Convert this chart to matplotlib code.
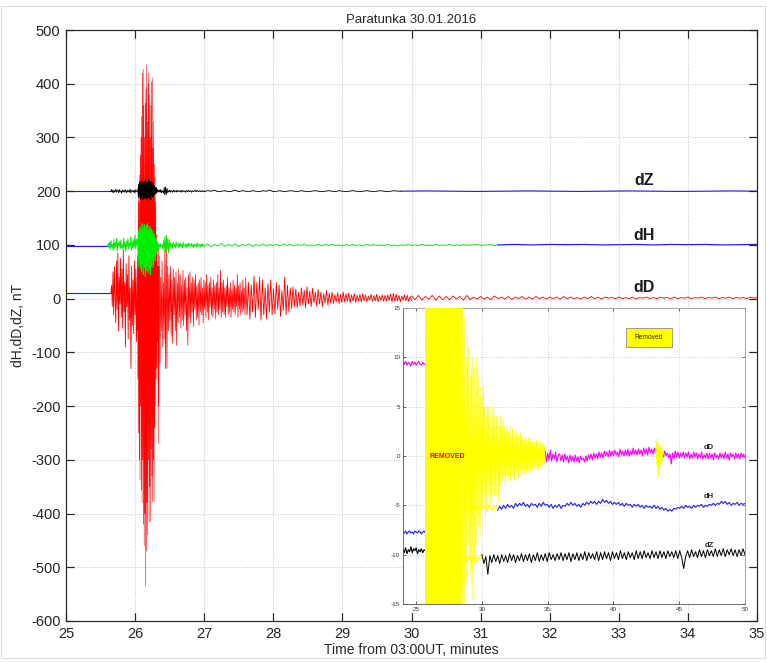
import numpy as np
import matplotlib.pyplot as plt
from matplotlib.patches import Rectangle

plt.rcParams['font.family'] = ['Liberation Sans', 'DejaVu Sans']
plt.rcParams['axes.unicode_minus'] = False

# ---- main panel: minutes after 03:00 UT, nT ----
# dD trace, split into pieces; first piece is the quiet (blue) level
dD_edges = [25.0, 25.65, 26.03, 26.35, 27.6, 30.0, 35.0]
dD_quiet = [10, 10]
dD_onset = [10, 25, -15, 50, -30, 60, 5, -45, 70, -20,
            85, -60, 40, -10, 75, -35, 55, -55, 90, -25,
            30, -90, 65, -15, 45, -75, 80, -40, 20, -130,
            60, -50, 35, -65, 70, -30, 55, -80, 40]
dD_burst = [-60, 80, -150, 200, -250, 180, -300, 230, -338, 267,
            -200, 300, -356, 340, -380, 420, -300, 427, -420, 360,
            -460, 300, -400, 364, -535, 390, -470, 435, -380, 329,
            -440, 400, -300, 420, -416, 380, -350, 300, -415, 360,
            -280, 404, -330, 411, -378, 280, -300, 330, -378, 250,
            -240, 226, -200, 180, -150, 120, -130, 90, -80, 60,
            -270, 100, -200, 80]
dD_coda = [60, -120, 40, -60, 70, -90, 30, -75, 90, -130,
           115, -130, 60, -60, 45, -40, 60, -70, 35, -83,
           55, -30, 40, -60, 50, -87, 30, -45, 55, -35,
           45, -55, 25, -40, 53, -50, 35, -30, 40, -60,
           20, -87, 45, -35, 50, -45, 30, -25, 40, -52,
           35, -20, 45, -40, 25, -35, 30, -50, 35, -25,
           40, -30, 20, -45, 35, -20, 30, -35, 45, -25,
           25, -40, 30, -15, 40, -30, 20, -35, 35, -20,
           25, -38, 30, -25, 45, -30, 20, -20, 53, -35,
           30, -25, 35, -30, 20, -35, 25, -15, 40, -30,
           20, -25, 30, -35, 15, -20, 35, -25, 25, -30,
           20, -15, 45, -35, 25, -20, 30, -30, 15, -25,
           35, -20, 20, -30, 25]
dD_decay = [38, -30, 30, -38, 25, -25, 42, -35, 30, -20, 40,
            -40, 35, -30, 20, -38, 28, -25, 35, -30, 18,
            -28, 30, -20, 25, -33, 15, -22, 40, -30, 25,
            -25, 20, -18, 22, -15, 18, -17, 12, -14, 20,
            -12, 16, -17, 22, -10, 14, -15, 19, -8, 12,
            -14, 17, -10, 12, -15, 9, -8, 15, -12, 10,
            -8, 12, -9, 7, -6, 11, -9, 8, -7, 12,
            -6, 9, -5, 10, -8, 7, -4, 9, -7, 6,
            -5, 8, -6, 9, -4, 7, -6, 5, -3, 8,
            -5, 6, -4, 8, -6, 5, -3, 7, -5, 6,
            -4, 7, -3, 9, -6, 10, -5, 8, -4, 6,
            -6, 5, -3, 7, -4, 6, -5, 4, -3]
dD_tail = [5, -2, 6, -3, 4, -1, 6, -3, 5, -2,
           4, -2, 5, -1, 4, -3, 6, -2, 3, -1,
           4, -1, 3, -2, 5, 0, 3, -1, 4, -2,
           3, 0, 4, -1, 3, -1, 4, 0, 3, -1,
           3, 0, 3, -1, 4, 0, 3, 0, 2, -1,
           3, 0, 4, 0, 3, -1, 3, 1, 2, 0,
           3, 0, 2, 0, 3, -1, 2, 1, 3, 0,
           2, 0, 3, 1, 2, 0, 3, 0, 2, 1,
           3, 0, 2, 1, 3, 0, 2, 1, 3, 0,
           2, 1, 3, 0, 2, 1, 2, 0, 3, 1, 2]

# dH trace; first and last pieces are blue
dH_edges = [25.0, 25.6, 26.04, 26.34, 27.0, 31.25, 35.0]
dH_quiet = [98, 98]
dH_onset = [98, 102, 95, 105, 92, 108, 96, 101, 90, 110,
            94, 104, 97, 112, 89, 103, 99, 106, 93, 109,
            95, 100, 91, 113, 96, 104, 88, 107, 97, 111,
            92, 103, 99, 115, 90, 105, 94, 108, 96, 118,
            93, 110, 100, 112]
dH_burst = [105, 75, 125, 60, 130, 70, 118, 55, 135, 80,
            128, 50, 140, 65, 122, 45, 133, 72, 138, 58,
            126, 40, 130, 68, 137, 52, 120, 62, 141, 48,
            127, 70, 135, 55, 124, 44, 132, 66, 129, 60,
            120, 72, 126, 58, 118, 64, 122, 78, 115, 70,
            112, 80, 108, 85, 110, 88, 104, 90, 102, 94]
dH_coda = [96, 101, 94, 103, 97, 100, 92, 108, 88, 116,
           86, 118, 90, 112, 85, 110, 94, 104, 96, 102,
           93, 105, 97, 101, 94, 106, 98, 100, 95, 104,
           96, 103, 97, 101, 94, 105, 98, 100, 96, 103,
           95, 102, 97, 104, 98, 101, 96, 103, 97, 100,
           95, 102, 98, 101, 96, 104, 97, 100, 98, 102,
           96, 101, 97, 103, 98, 100]
dH_decay = [97, 102, 96, 101, 98, 103, 97, 101, 98, 102,
            97, 101, 99, 102, 97, 101, 98, 102, 98, 101,
            99, 101, 98, 102, 99, 101, 98, 101, 99, 102,
            98, 100, 99, 101, 98, 101, 99, 101, 99, 100,
            98, 101, 99, 101, 99, 100, 98, 101, 99, 101,
            99, 100, 99, 101, 99, 100, 98, 100, 99, 101,
            99, 100, 99, 101, 99, 100, 99, 101, 99, 100,
            99, 101, 99, 100, 99, 101, 99, 100, 100, 101,
            99, 100, 100, 101, 99, 100]
dH_after = [100, 101, 100, 101, 100.5, 101, 100, 100.5,
            101, 100, 101, 100.5, 101, 100, 100.5, 101]

# dZ trace; first and last pieces are blue
dZ_edges = [25.0, 25.65, 26.04, 26.34, 27.0, 29.85, 35.0]
dZ_quiet = [201, 201]
dZ_onset = [200, 203, 198, 202, 197, 201, 199, 204, 198, 201,
            202, 197, 203, 199, 200, 196, 202, 199, 201, 198,
            203, 200, 197, 202, 199, 201, 198, 204, 197, 200,
            202, 199, 201, 197, 203, 198, 200, 202, 199]
dZ_burst = [205, 192, 212, 188, 215, 195, 218, 185, 210, 190,
            220, 186, 214, 193, 217, 184, 212, 190, 219, 187,
            216, 192, 221, 185, 213, 189, 218, 183, 215, 194,
            222, 188, 214, 186, 219, 191, 216, 184, 212, 193,
            218, 189, 210, 192, 214, 190, 208, 195, 210, 194,
            206, 197, 207, 196, 204, 198, 203, 199, 202, 200]
dZ_coda = [199, 202, 198, 203, 197, 201, 200, 196, 207, 193,
           208, 194, 205, 197, 201, 199, 202, 198, 201, 200,
           198, 202, 199, 201, 200, 198, 202, 199, 201, 200,
           199, 201, 198, 202, 200, 199, 201, 200, 198, 201,
           200, 199, 202, 200, 199, 201, 200, 198, 201, 200,
           199, 201, 200, 202, 199, 200, 201, 199, 200, 201,
           199, 200, 201, 199, 200, 201]
dZ_decay = [199, 201, 200, 202, 199, 200, 201, 199, 200, 202,
            199, 201, 200, 199, 201, 200, 199, 201, 200, 202,
            199, 200, 201, 199, 200, 201, 200, 199, 201, 200,
            199, 200, 201, 200, 199, 200, 201, 200, 199, 201,
            200, 199, 200, 201, 200, 199, 200, 201, 200, 199,
            200, 201, 200, 199, 200, 201, 200, 200]
dZ_after = [200, 200.5, 200, 199.5, 200, 200.5, 200, 199.5,
            200, 200.5, 200, 199.5, 200, 200.5, 200]

# ---- inset: same components, cleaned series ----
ins_dD_pre = [9.5, 9.3, 9.6, 9.2, 9.5, 9.4, 9.1, 9.6, 9.3, 9.5,
              9.2, 9.4, 9.6, 9.3, 9.2, 9.5, 9.3, 9.4]
ins_dD_post = [0.5, -0.6, 0.3, -0.4, 0.6, -0.5, 0.2, -0.3, 0.4, -0.6, 0.1,
               0.2, -0.5, 0.1, -0.6, 0.2, -0.4, 0.0, -0.7, 0.1, -0.5,
               -0.1, -0.6, 0.1, -0.5, -0.1, -0.7, 0.0, -0.4, -0.2, -0.6,
               0.0, -0.5, 0.1, -0.3, 0.2, -0.4, 0.3, -0.2, 0.2, -0.3,
               0.4, -0.1, 0.3, -0.2, 0.5, 0.0, 0.4, -0.1, 0.6, 0.0,
               0.5, 0.0, 0.6, 0.1, 0.4, -0.1, 0.7, 0.1, 0.5, 0.0,
               0.6, 0.1, 0.7, 0.0, 0.5, 0.1, 0.8, 0.2, 0.6, 0.1,
               0.7, 0.2, 0.6, 0.0, 0.8, 0.2, 0.7, 0.1, 0.9, 0.3,
               0.7, 0.2, 0.8, 0.3,
               0.5, 0.1, 0.6, 0.0, 0.4, -0.1, 0.5, 0.0, 0.3, -0.2,
               0.2, -0.8, 0.3, -0.3, 0.5, -0.1, 0.4, -0.2, 0.3, -0.1,
               0.4, -0.2, 0.3, -0.1, 0.4, -0.3, 0.2, -0.2, 0.4, -0.1,
               0.3, -0.3, 0.2, -0.2, 0.4, -0.3, 0.1, -0.2, 0.3, -0.3,
               0.3, -0.2, 0.2, -0.4, 0.3, -0.2, 0.1, -0.3, 0.3, -0.2,
               0.2, -0.3, 0.4, -0.2, 0.2, -0.4, 0.3, -0.1, 0.2, -0.3,
               0.3, -0.2, 0.2, -0.3, 0.3, -0.1, 0.2, -0.2]
ins_dH_pre = [-7.7, -7.8, -7.6, -7.9, -7.7, -7.6, -7.8, -7.7, -7.9, -7.6,
              -7.7, -7.8, -7.6, -7.7, -7.9, -7.7, -7.6, -7.8]
ins_dH_post = [-5.5, -5.1, -5.4, -5.0, -5.3, -4.9, -5.2, -5.0, -5.3, -4.8,
               -5.1, -4.8, -5.0, -4.7, -5.1, -4.9, -5.2, -4.8, -5.0, -4.9,
               -5.2, -4.8, -5.1, -4.7, -5.0, -4.9, -5.2, -4.9, -5.3, -5.0,
               -5.2, -4.9, -5.3, -5.0, -5.1, -4.8, -5.0, -4.7, -5.0, -4.8,
               -5.1, -4.9, -5.2, -4.8, -5.0, -4.7, -4.9, -4.6, -4.8, -4.6,
               -4.9, -4.6, -4.8, -4.4, -4.7, -4.5, -4.8, -4.6, -4.9, -4.7,
               -4.9, -4.7, -5.0, -4.8, -5.1, -4.8, -5.0, -4.9, -5.2, -4.9,
               -5.1, -4.9, -5.2, -5.0, -5.3, -5.0, -5.2, -5.1, -5.3, -5.0,
               -5.3, -5.1, -5.4, -5.2, -5.5, -5.3, -5.6, -5.4, -5.6, -5.3,
               -5.4, -5.2, -5.3, -5.1, -5.3, -5.0, -5.2, -5.1, -5.3, -5.0,
               -5.2, -5.0, -5.1, -4.9, -5.2, -5.0, -5.1, -4.9, -5.0, -4.8,
               -5.0, -4.8, -4.9, -4.6, -4.8, -4.6, -4.9, -4.7, -5.0, -4.8,
               -4.9, -4.7, -5.0, -4.8, -4.9, -4.8]
ins_dZ_pre = [-9.4, -9.8, -9.3, -9.9, -9.5, -9.7, -9.2, -9.8, -9.4, -9.6,
              -9.3, -9.9, -9.5, -9.7, -9.4, -9.8, -9.5, -9.6]
ins_dZ_post = [-10.0, -10.9, -10.2, -12.0, -10.1, -10.8, -10.0, -10.7, -10.1, -10.9,
               -10.0, -10.7, -10.1, -10.8, -9.9, -10.6, -10.0, -10.8, -10.1, -10.6,
               -9.9, -10.7, -10.0, -10.6, -9.9, -10.8, -10.0, -10.6, -9.8, -10.7,
               -10.0, -10.6, -9.9, -10.7, -9.8, -10.5, -10.0, -10.6, -9.9, -10.5,
               -9.8, -10.6, -9.9, -10.5, -9.8, -10.7, -9.9, -10.5, -9.8, -10.6,
               -9.9, -10.5, -9.7, -10.6, -9.8, -10.4, -9.9, -10.5, -9.7, -10.6,
               -9.8, -10.5, -9.7, -10.4, -9.8, -10.6, -9.7, -10.4, -9.8, -10.5,
               -9.6, -10.4, -9.8, -10.5, -9.7, -10.3, -9.8, -10.5, -9.6, -10.4,
               -9.7, -10.4, -9.6, -10.3, -9.8, -10.4, -9.6, -10.3, -9.7, -10.4,
               -9.6, -10.3, -9.7, -10.4, -9.6, -10.2, -9.7, -10.3, -9.6, -10.4,
               -9.6, -10.3, -11.4, -10.2, -9.6, -10.3, -9.5, -10.2, -9.7, -10.3,
               -9.5, -10.2, -9.6, -10.3, -9.5, -10.1, -9.6, -10.2, -9.4, -10.2,
               -9.5, -10.1, -9.4, -10.2, -9.5, -10.0, -9.4, -10.1, -9.5, -10.2,
               -9.5, -10.1, -9.4, -10.0]
# removed (yellow) pieces
rem_dD_a = [28, -31, 26, -29, 33, -27, 30, -32, 25, -28,
            31, -26, 29, -33, 27, -30, 32, -25, 28, -31,
            26, -29, 30, -27, 33, -28, 25, -32, 29, -26,
            31, -30, 27, -29, 24, -31, 28, -25, 30, -27,
            22, -26, 25, -24, 21, -27, 23, -22, 20, -24,
            19, -21, 22, -18, 17, -20]
rem_dD_b = [15, -13, 12, -16, 14, -11, 10, -13, 12, -9,
            11, -10, 8, -12, 9, -14.6, 10, -8, 9, -11,
            7, -9, 10, -6, 8, -7, 6, -8, 7, -5,
            6, -5, 7, -4, 5, -6, 4, -5, 5, -4,
            5, -3, 4, -5, 3, -4, 5, -3, 4, -4,
            3, -4, 4, -2, 3, -4.6, 3, -3, 4, -2,
            3, -2.5, 3.5, -2, 3, -3, 2.5, -2, 3, -2.5,
            2.5, -2, 3, -2.5, 2, -2, 2.8, -1.8, 2.2, -2.4,
            2, -2, 2.5, -1.5, 2, -2.2, 1.8, -1.6, 2.3, -1.8,
            2, -1.5, 1.8, -2, 1.6, -1.4, 2, -1.7, 1.5, -1.6,
            1.8, -1.3, 1.5, -1.6, 1.7, -1.2, 1.4, -1.5, 1.6, -1.2,
            1.4, -1.2, 1.6, -1, 1.3, -1.4, 1.2, -1.1, 1.5, -1,
            1.2, -1, 1.3, -0.8, 1, -0.9]
rem_dD_c = [0.3, 1.5, -1.0, 1.8, -2.1, 1.2, -1.5, 1.0, -0.8, 0.9, -0.5, 0.6, 0.2]
rem_dH = [-5.0, -5.5, -4.8, -5.6, -5.0, -5.4, -4.9, -5.6, -5.1, -5.3,
          -4.9, -5.5, -5.0, -5.4, -4.8, -5.5, -5.1, -5.3, -4.9, -5.6,
          -5.0, -5.4, -5.1, -5.5, -5.0, -5.3, -5.2, -5.4]
rem_dZ = [-10.0, -10.6, -10.1, -10.8, -10.0, -10.5, -10.2, -10.9,
          -10.1, -10.6, -10.0, -10.7, -10.2, -10.5, -10.1, -10.6]


def draw(ax, t0, t1, vals, color, lw=0.7, z=2):
    t = np.linspace(t0, t1, len(vals))
    ax.plot(t, vals, color=color, lw=lw, zorder=z)


def draw_trace(ax, edges, pieces, colors, widths, z):
    for i, vals in enumerate(pieces):
        draw(ax, edges[i], edges[i + 1], vals, colors[i], widths[i], z)


W, H = 767, 663
fig = plt.figure(figsize=(W / 100, H / 100), dpi=100)
main_pos = [66 / W, 42 / H, 691 / W, 591 / H]
ax = fig.add_axes(main_pos, zorder=1)

blue, red, green = '#1a1aff', '#ff0000', '#00ee00'
draw_trace(ax, dD_edges, [dD_quiet, dD_onset, dD_burst, dD_coda, dD_decay, dD_tail],
           [blue] + [red] * 5, [0.8, 0.6, 0.4, 0.5, 0.6, 0.6], 2)
draw_trace(ax, dH_edges, [dH_quiet, dH_onset, dH_burst, dH_coda, dH_decay, dH_after],
           [blue] + [green] * 4 + [blue], [0.8, 0.7, 0.5, 0.6, 0.6, 0.8], 3)
draw_trace(ax, dZ_edges, [dZ_quiet, dZ_onset, dZ_burst, dZ_coda, dZ_decay, dZ_after],
           [blue] + ['black'] * 4 + [blue], [0.8, 0.6, 0.5, 0.6, 0.6, 0.8], 4)

ax.set_xlim(25, 35)
ax.set_ylim(-600, 500)
ax.set_xticks(range(25, 36))
ax.set_yticks(range(-600, 501, 100))
ax.grid(True, ls=':', color='#c4c4c4', lw=0.7)
ax.tick_params(direction='in', top=True, right=True, length=6, width=0.8,
               labelsize=10.5, colors='#262626', pad=4)
ax.set_title('Paratunka 30.01.2016', fontsize=9.5, pad=5, color='#262626')
ax.set_xlabel('Time from 03:00UT, minutes', fontsize=10, labelpad=2, color='#262626')
ax.set_ylabel('dH,dD,dZ, nT', fontsize=10, labelpad=4, color='#262626')
for sp in ax.spines.values():
    sp.set_color('#262626')

for name, yv in [('dZ', 219), ('dH', 118), ('dD', 20)]:
    ax.text(33.37, yv, name, ha='center', va='center', fontsize=11.5,
            fontweight='bold', color='#1a1a1a')

# ---- inset ----
ins = fig.add_axes([403 / W, 59 / H, 342 / W, 296 / H], zorder=2)
ins.set_facecolor('white')
mag, iblue, yel = '#ff00ff', '#1f1fff', '#ffff00'
draw(ins, 24.0, 25.7, ins_dD_pre, mag, 0.8)
draw(ins, 34.8, 50.0, ins_dD_post, mag, 0.8)
draw(ins, 24.0, 25.7, ins_dH_pre, iblue, 0.8)
draw(ins, 31.2, 50.0, ins_dH_post, iblue, 0.8)
draw(ins, 24.0, 25.7, ins_dZ_pre, 'black', 0.8)
draw(ins, 30.0, 50.0, ins_dZ_post, 'black', 0.7)
draw(ins, 25.7, 28.5, rem_dD_a, yel, 0.8, 3)
draw(ins, 28.5, 34.8, rem_dD_b, yel, 0.6, 3)
draw(ins, 43.2, 43.8, rem_dD_c, yel, 0.7, 3)
draw(ins, 28.5, 31.2, rem_dH, yel, 0.7, 3)
draw(ins, 28.5, 30.0, rem_dZ, yel, 0.7, 3)

ins.set_xlim(24, 50)
ins.set_ylim(-15, 15)
ins.set_xticks(range(25, 51, 5))
ins.set_yticks(range(-15, 16, 5))
ins.grid(True, ls=':', color='#c8c8c8', lw=0.6)
ins.tick_params(direction='in', top=True, right=True, length=2.5, width=0.5,
                labelsize=4.5, colors='#333333', pad=2)
for side, sp in ins.spines.items():
    sp.set_color('#555555' if side in ('left', 'bottom') else '#9a9a9a')
    sp.set_linewidth(0.6)

ins.text(26.0, 0, 'REMOVED', color='red', fontsize=5, fontweight='bold',
         ha='left', va='center', zorder=6)
for name, yv in [('dD', 0.9), ('dH', -4.1), ('dZ', -9.1)]:
    ins.text(47.26, yv, name, ha='center', va='center', fontsize=5.5,
             fontweight='bold', color='#222222', zorder=6)
ins.add_patch(Rectangle((40.96, 11.0), 3.5, 2.0, facecolor=yel,
                        edgecolor='#8c8c8c', lw=0.6, zorder=6))
ins.text(42.7, 12.0, 'Removed', fontsize=4.8, ha='center', va='center',
         color='#222222', zorder=7)

# main ticks stay visible on top of the inset
ov = fig.add_axes(main_pos, zorder=3)
ov.patch.set_visible(False)
ov.set_xlim(25, 35)
ov.set_ylim(-600, 500)
ov.set_xticks(range(25, 36))
ov.set_yticks(range(-600, 501, 100))
ov.tick_params(direction='in', top=True, right=True, length=6, width=0.8,
               colors='#262626', labelbottom=False, labelleft=False)
for sp in ov.spines.values():
    sp.set_color('#262626')

# light figure frame
fig.add_artist(Rectangle((1 / W, 5 / H), 764 / W, 652 / H, transform=fig.transFigure,
                         fill=False, edgecolor='#dddddd', lw=0.8))

fig.savefig('out.png', dpi=100)
